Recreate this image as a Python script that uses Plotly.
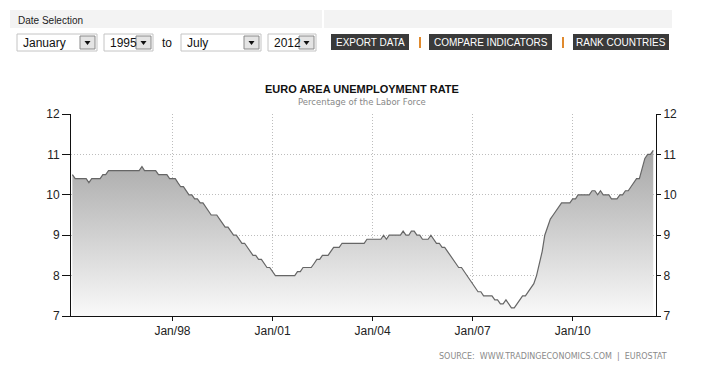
import pandas as pd
import plotly.graph_objects as go

# ---------------- data (monthly, Euro area unemployment rate, %) ----------------
rate_1995 = [10.5, 10.4, 10.4, 10.4, 10.4, 10.4, 10.3, 10.4, 10.4, 10.4, 10.4, 10.5]
rate_1996 = [10.5, 10.6, 10.6, 10.6, 10.6, 10.6, 10.6, 10.6, 10.6, 10.6, 10.6, 10.6]
rate_1997 = [10.6, 10.7, 10.6, 10.6, 10.6, 10.6, 10.6, 10.5, 10.5, 10.5, 10.5, 10.4]
rate_1998 = [10.4, 10.4, 10.3, 10.2, 10.2, 10.1, 10.0, 10.0, 9.9, 9.9, 9.8, 9.8]
rate_1999 = [9.7, 9.6, 9.5, 9.5, 9.5, 9.4, 9.3, 9.2, 9.2, 9.1, 9.0, 9.0]
rate_2000 = [8.9, 8.8, 8.8, 8.7, 8.6, 8.5, 8.5, 8.4, 8.4, 8.3, 8.2, 8.2]
rate_2001 = [8.1, 8.0, 8.0, 8.0, 8.0, 8.0, 8.0, 8.0, 8.0, 8.1, 8.1, 8.2]
rate_2002 = [8.2, 8.2, 8.2, 8.3, 8.4, 8.4, 8.5, 8.5, 8.5, 8.6, 8.7, 8.7]
rate_2003 = [8.7, 8.8, 8.8, 8.8, 8.8, 8.8, 8.8, 8.8, 8.8, 8.8, 8.9, 8.9]
rate_2004 = [8.9, 8.9, 8.9, 8.9, 9.0, 8.9, 9.0, 9.0, 9.0, 9.0, 9.0, 9.1]
rate_2005 = [9.0, 9.0, 9.1, 9.1, 9.0, 9.0, 8.9, 8.9, 8.9, 9.0, 8.9, 8.8]
rate_2006 = [8.8, 8.7, 8.7, 8.6, 8.5, 8.4, 8.3, 8.2, 8.2, 8.1, 8.0, 7.9]
rate_2007 = [7.8, 7.7, 7.6, 7.6, 7.5, 7.5, 7.5, 7.5, 7.4, 7.4, 7.3, 7.3]
rate_2008 = [7.4, 7.3, 7.2, 7.2, 7.3, 7.4, 7.5, 7.5, 7.6, 7.7, 7.8, 8.0]
rate_2009 = [8.3, 8.6, 9.0, 9.2, 9.4, 9.5, 9.6, 9.7, 9.8, 9.8, 9.8, 9.8]
rate_2010 = [9.9, 9.9, 10.0, 10.0, 10.0, 10.0, 10.0, 10.1, 10.1, 10.0, 10.1, 10.0]
rate_2011 = [10.0, 10.0, 9.9, 9.9, 9.9, 10.0, 10.0, 10.1, 10.1, 10.2, 10.3, 10.4]
rate_2012 = [10.4, 10.7, 10.9, 11.0, 11.0, 11.1]

rate = (rate_1995 + rate_1996 + rate_1997 + rate_1998 + rate_1999 + rate_2000
        + rate_2001 + rate_2002 + rate_2003 + rate_2004 + rate_2005 + rate_2006
        + rate_2007 + rate_2008 + rate_2009 + rate_2010 + rate_2011 + rate_2012)
start_month = "1995-01-01"
months = pd.date_range(start_month, periods=len(rate), freq="MS")

x_tick_vals = ["1998-01-01", "2001-01-01", "2004-01-01", "2007-01-01", "2010-01-01"]
x_tick_text = ["Jan/98", "Jan/01", "Jan/04", "Jan/07", "Jan/10"]
y_tick_vals = [7, 8, 9, 10, 11, 12]

title_text = "EURO AREA UNEMPLOYMENT RATE"
subtitle_text = "Percentage of the Labor Force"
source_text = "SOURCE:&nbsp;&nbsp;WWW.TRADINGECONOMICS.COM&nbsp;&nbsp;|&nbsp;&nbsp;EUROSTAT"

# ---------------- layout geometry (page pixels; body has an 8px margin) ----------------
OFF = 8
W, H = 704 - 2 * OFF, 377 - 2 * OFF
L, R, T, B = 71, 656, 114, 316          # plot area in page pixels
SANS = "Liberation Sans, Arial, sans-serif"
VERD = "DejaVu Sans, Verdana, sans-serif"


def px(p):
    return (p - L) / (R - L)


def py(p):
    return (B - p) / (B - T)


fig = go.Figure()
fig.add_trace(go.Scatter(
    x=months, y=rate, mode="lines",
    line=dict(color="#666666", width=1.2),
    fill="tozeroy",
    fillgradient=dict(type="vertical", start=7, stop=11.2,
                      colorscale=[[0, "#f9f9f9"], [1, "#a4a4a4"]]),
    hoverinfo="skip", showlegend=False,
))
fig.add_trace(go.Scatter(x=[months[0]], y=[7], yaxis="y2", mode="markers",
                         marker=dict(opacity=0), showlegend=False, hoverinfo="skip"))

axis_font = dict(family=SANS, size=12, color="#222")
grid = dict(showgrid=True, gridcolor="#bdbdbd", griddash="1px,2px", gridwidth=1)
fig.update_layout(
    width=W, height=H,
    margin=dict(l=L - OFF, r=W - (R - OFF), t=T - OFF, b=H - (B - OFF)),
    paper_bgcolor="white", plot_bgcolor="white",
    xaxis=dict(
        range=["1994-12-17", "2012-07-01"],
        tickvals=x_tick_vals, ticktext=x_tick_text, **grid,
        showline=True, linecolor="#111", linewidth=1,
        ticks="outside", ticklen=4, tickcolor="#111",
        tickfont=axis_font, zeroline=False,
    ),
    yaxis=dict(
        range=[7, 12], tickvals=y_tick_vals, **grid,
        showline=True, linecolor="#111", linewidth=1,
        ticks="outside", ticklen=8, tickcolor="#111",
        tickfont=axis_font, zeroline=False,
    ),
    yaxis2=dict(
        range=[7, 12], tickvals=y_tick_vals, overlaying="y", side="right",
        showgrid=False, showline=True, linecolor="#111", linewidth=1,
        ticks="outside", ticklen=4, tickcolor="#111",
        tickfont=axis_font, zeroline=False,
    ),
)

shapes = []
annots = []

# Date selection bar
shapes.append(dict(type="rect", xref="paper", yref="paper",
                   x0=px(10), x1=px(672), y0=py(28), y1=py(10),
                   fillcolor="#f3f3f3", line=dict(width=0), layer="below"))
shapes.append(dict(type="line", xref="paper", yref="paper",
                   x0=px(323), x1=px(323), y0=py(28), y1=py(10),
                   line=dict(color="#ffffff", width=2)))
annots.append(dict(text="Date Selection", xref="paper", yref="paper",
                   x=px(16), y=py(20), xanchor="left", yanchor="middle",
                   showarrow=False, font=dict(family=SANS, size=10, color="#222")))

# dropdowns
dropdowns = [("January", 17, 97), ("1995", 104, 153), ("July", 181, 261), ("2012", 268, 316)]
for label, a, b in dropdowns:
    shapes.append(dict(type="rect", xref="paper", yref="paper",
                       x0=px(a), x1=px(b), y0=py(51), y1=py(34),
                       fillcolor="white", line=dict(color="#c4c4c4", width=1)))
    shapes.append(dict(type="rect", xref="paper", yref="paper",
                       x0=px(b - 17), x1=px(b - 2), y0=py(49), y1=py(36),
                       fillcolor="#e4e4e4", line=dict(color="#8a8a8a", width=1)))
    cx = b - 9.5
    shapes.append(dict(type="path", xref="paper", yref="paper",
                       path=f"M {px(cx-3)} {py(41)} L {px(cx+3)} {py(41)} L {px(cx)} {py(45)} Z",
                       fillcolor="#111", line=dict(width=0)))
    annots.append(dict(text=label, xref="paper", yref="paper",
                       x=px(a + 4), y=py(43), xanchor="left", yanchor="middle",
                       showarrow=False, font=dict(family=SANS, size=12, color="#111")))
annots.append(dict(text="to", xref="paper", yref="paper",
                   x=px(167), y=py(43), xanchor="center", yanchor="middle",
                   showarrow=False, font=dict(family=SANS, size=12, color="#111")))

# dark buttons
buttons = [("EXPORT DATA", 331, 409), ("COMPARE INDICATORS", 429, 552), ("RANK COUNTRIES", 573, 669)]
for label, a, b in buttons:
    shapes.append(dict(type="rect", xref="paper", yref="paper",
                       x0=px(a), x1=px(b), y0=py(50), y1=py(34),
                       fillcolor="#3a3a3a", line=dict(width=0)))
    annots.append(dict(text=label, xref="paper", yref="paper",
                       x=px((a + b) / 2), y=py(42.5), xanchor="center", yanchor="middle",
                       showarrow=False, font=dict(family=SANS, size=10, color="white")))
for sx in (420, 563):
    shapes.append(dict(type="line", xref="paper", yref="paper",
                       x0=px(sx), x1=px(sx), y0=py(48), y1=py(37),
                       line=dict(color="#e08a2e", width=2)))

# titles
annots.append(dict(text=f"<b>{title_text}</b>", xref="paper", yref="paper",
                   x=px(362), y=py(89), xanchor="center", yanchor="middle",
                   showarrow=False, font=dict(family=SANS, size=11, color="#111")))
annots.append(dict(text=subtitle_text, xref="paper", yref="paper",
                   x=px(362), y=py(102), xanchor="center", yanchor="middle",
                   showarrow=False, font=dict(family=VERD, size=8.5, color="#888")))
annots.append(dict(text=source_text, xref="paper", yref="paper",
                   x=px(669), y=py(356), xanchor="right", yanchor="middle",
                   showarrow=False, font=dict(family=VERD, size=8, color="#8a8a8a")))

fig.update_layout(shapes=shapes, annotations=annots)
fig.write_html("out.html")
